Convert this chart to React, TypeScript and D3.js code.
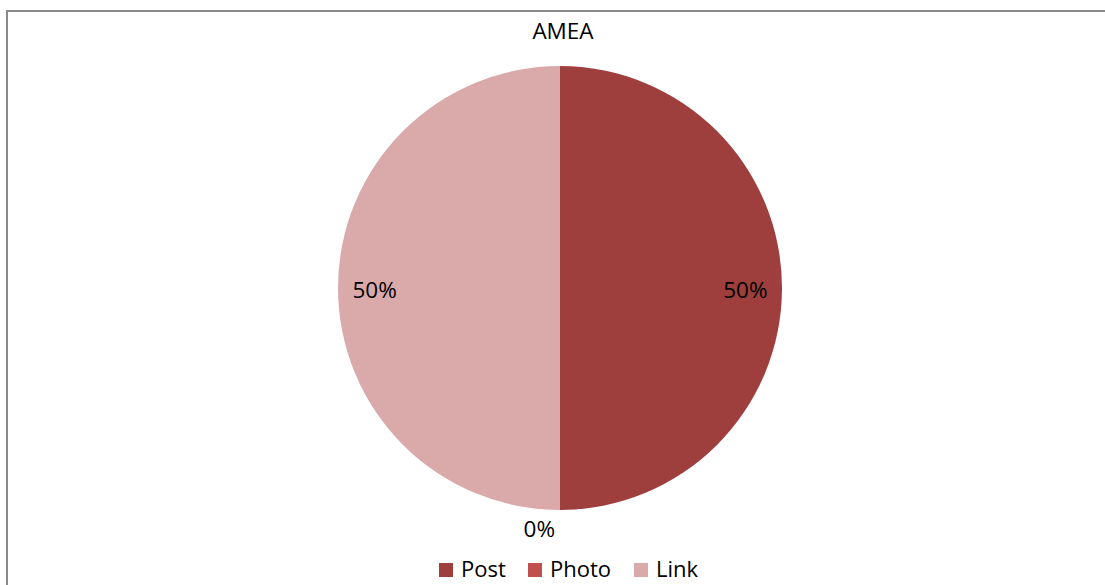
import React from "react";
import * as d3 from "d3";

const title = "AMEA";
const categories = ["Post", "Photo", "Link"];
const values = [50, 0, 50];
const colors = ["#9E3F3D", "#C0504D", "#DAAAAA"];

const W = 1105;
const H = 585;
const cx = 560;
const cy = 288;
const R = 222;
const FONT = "'Open Sans', 'DejaVu Sans', sans-serif";

export default function App() {
  const total = d3.sum(values);
  const pie = d3
    .pie<number>()
    .sort(null)
    .value((d) => d)
    .startAngle(0)
    .endAngle(2 * Math.PI);
  const arcs = pie(values);
  const arc = d3.arc<d3.PieArcDatum<number>>().innerRadius(0).outerRadius(R);
  const labelArc = d3
    .arc<d3.PieArcDatum<number>>()
    .innerRadius(R * 0.835)
    .outerRadius(R * 0.835);
  const outerArc = d3
    .arc<d3.PieArcDatum<number>>()
    .innerRadius(R + 20)
    .outerRadius(R + 20);
  const fmt = (v: number) => `${Math.round((v / total) * 100)}%`;

  const legendX = [439, 528, 634];

  return (
    <svg
      width={W}
      height={H}
      style={{ position: "absolute", left: 0, top: 0, background: "#fff" }}
    >
      <rect x={7} y={11} width={1300} height={800} fill="#fff" stroke="#888" strokeWidth={2} />
      <text x={cx + 3} y={39} textAnchor="middle" fontFamily={FONT} fontSize={22.5} fill="#000">
        {title}
      </text>
      <g transform={`translate(${cx},${cy})`}>
        {arcs.map((a, i) =>
          a.value > 0 ? <path key={i} d={arc(a) || ""} fill={colors[i]} /> : null
        )}
        {arcs.map((a, i) => {
          if (a.value > 0) {
            const [x, y] = labelArc.centroid(a);
            return (
              <text
                key={"l" + i}
                x={x}
                y={y + 10}
                textAnchor="middle"
                fontFamily={FONT}
                fontSize={22.5}
                fill="#000"
              >
                {fmt(a.value)}
              </text>
            );
          }
          const [x, y] = outerArc.centroid(a);
          return (
            <text
              key={"l" + i}
              x={x - 5}
              y={y + 7}
              textAnchor="end"
              fontFamily={FONT}
              fontSize={22.5}
              fill="#000"
            >
              {fmt(a.value)}
            </text>
          );
        })}
      </g>
      {categories.map((c, i) => (
        <g key={c}>
          <rect x={legendX[i]} y={563} width={14} height={14} fill={colors[i]} />
          <text x={legendX[i] + 22} y={577} fontFamily={FONT} fontSize={22} fill="#000">
            {c}
          </text>
        </g>
      ))}
    </svg>
  );
}
